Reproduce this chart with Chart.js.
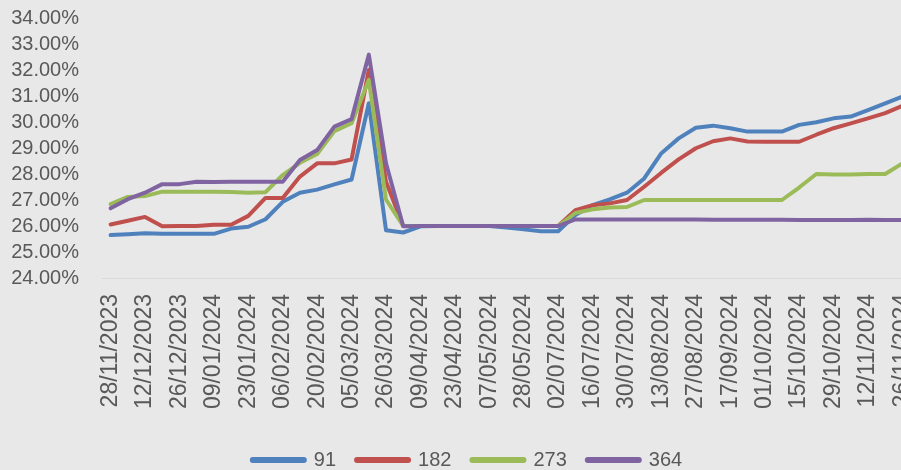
<!DOCTYPE html>
<html>
<head>
<meta charset="utf-8">
<script src="https://cdn.jsdelivr.net/npm/chart.js@4.4.1/dist/chart.umd.min.js"></script>
<style>
  html, body { margin: 0; padding: 0; background: #e8e8e8; overflow: hidden; }
  #wrap { width: 901px; height: 470px; overflow: hidden; }
  canvas { display: block; }
</style>
</head>
<body>
<div id="wrap"><canvas id="myChart" width="911" height="480"></canvas></div>
<script>
// fechas (semanales, con algunos huecos)
var fechas = [
    '28/11/2023','05/12/2023','12/12/2023','19/12/2023','26/12/2023','02/01/2024',
    '09/01/2024','16/01/2024','23/01/2024','30/01/2024','06/02/2024','13/02/2024',
    '20/02/2024','27/02/2024','05/03/2024','19/03/2024','26/03/2024','02/04/2024',
    '09/04/2024','16/04/2024','23/04/2024','30/04/2024','07/05/2024','14/05/2024',
    '28/05/2024','18/06/2024','02/07/2024','09/07/2024','16/07/2024','23/07/2024',
    '30/07/2024','06/08/2024','13/08/2024','20/08/2024','27/08/2024','10/09/2024',
    '17/09/2024','24/09/2024','01/10/2024','08/10/2024','15/10/2024','22/10/2024',
    '29/10/2024','05/11/2024','12/11/2024','19/11/2024','26/11/2024'
];

var plazos = ['91', '182', '273', '364'];

var tasa91 = [
    25.65, 25.68, 25.72, 25.70, 25.70, 25.70, 25.70, 25.90, 25.97, 26.26, 26.93, 27.28,
    27.40, 27.60, 27.79, 30.72, 25.84, 25.75, 25.99, 26.00, 26.00, 26.00, 26.00, 25.94,
    25.87, 25.80, 25.80, 26.42, 26.80, 27.02, 27.28, 27.83, 28.80, 29.37, 29.78, 29.86,
    29.76, 29.63, 29.63, 29.63, 29.89, 29.99, 30.14, 30.21, 30.46, 30.72, 30.98
];

var tasa182 = [
    26.06, 26.20, 26.35, 25.99, 26.00, 26.00, 26.05, 26.05, 26.39, 27.08, 27.08, 27.90,
    28.41, 28.41, 28.56, 32.00, 27.70, 26.00, 26.00, 26.00, 26.00, 26.00, 26.00, 26.00,
    26.00, 26.00, 26.00, 26.61, 26.80, 26.87, 27.00, 27.51, 28.05, 28.56, 28.99, 29.26,
    29.37, 29.25, 29.24, 29.24, 29.24, 29.51, 29.76, 29.95, 30.14, 30.34, 30.62
];

var tasa273 = [
    26.84, 27.12, 27.15, 27.32, 27.32, 27.32, 27.32, 27.31, 27.28, 27.30, 27.96, 28.43,
    28.77, 29.65, 29.95, 31.62, 27.02, 26.00, 26.00, 26.00, 26.00, 26.00, 26.00, 26.00,
    26.00, 26.00, 26.00, 26.50, 26.64, 26.71, 26.73, 27.00, 27.00, 27.00, 27.00, 27.00,
    27.00, 27.00, 27.00, 27.00, 27.48, 28.00, 27.98, 27.98, 28.00, 28.00, 28.41
];

var tasa364 = [
    26.68, 27.03, 27.28, 27.61, 27.61, 27.70, 27.69, 27.70, 27.70, 27.70, 27.70, 28.54,
    28.92, 29.82, 30.11, 32.59, 28.41, 25.99, 26.00, 26.00, 26.00, 26.00, 26.00, 26.00,
    26.00, 26.00, 26.00, 26.25, 26.25, 26.25, 26.25, 26.25, 26.25, 26.25, 26.25, 26.24,
    26.24, 26.24, 26.24, 26.24, 26.23, 26.23, 26.23, 26.23, 26.24, 26.23, 26.23
];

var colores = ['#4f81bd', '#c0504d', '#9bbb59', '#8064a2'];
var series = [tasa91, tasa182, tasa273, tasa364];

var datasets = [];
for (var i = 0; i < series.length; i++) {
    datasets.push({
        label: plazos[i],
        data: series[i],
        borderColor: colores[i],
        backgroundColor: colores[i],
        borderWidth: 4,
        pointRadius: 0,
        tension: 0,
        borderJoinStyle: 'round',
        borderCapStyle: 'round',
        order: series.length - i   // el 364 queda encima
    });
}

var textoGris = '#595959';

// corre la leyenda un poco a la derecha, como en el original
var moverLeyenda = {
    id: 'moverLeyenda',
    afterLayout: function(chart) {
        if (chart.legend) {
            chart.legend.left += 12;
            chart.legend.right += 12;
        }
    }
};

var charGrafico = new Chart(document.getElementById('myChart'), {
    type: 'line',
    data: {
        labels: fechas,
        datasets: datasets
    },
    plugins: [moverLeyenda],
    options: {
        responsive: false,
        animation: false,
        layout: { padding: { left: 0, top: 18, right: 0, bottom: 0 } },
        scales: {
            x: {
                offset: true,
                grid: { display: false, drawTicks: false },
                border: { display: true, color: '#d9d9d9', width: 1 },
                ticks: {
                    autoSkip: false,
                    maxRotation: 90,
                    minRotation: 90,
                    padding: 16,
                    color: textoGris,
                    font: { family: 'Liberation Sans', size: 23 },
                    callback: function(value, index) {
                        return index % 2 === 0 ? this.getLabelForValue(value) : '';
                    }
                },
                afterFit: function(scale) {
                    scale.height = 151;
                    scale.paddingLeft = 0;
                    scale.paddingRight = 0;
                }
            },
            y: {
                min: 24,
                max: 34,
                grid: { display: false, drawTicks: false },
                border: { display: false },
                ticks: {
                    stepSize: 1,
                    autoSkip: false,
                    padding: 23,
                    color: textoGris,
                    font: { family: 'Liberation Sans', size: 20 },
                    callback: function(value) {
                        return value.toFixed(2) + '%';
                    }
                },
                afterFit: function(scale) {
                    scale.width = 102;
                    scale.paddingTop = 0;
                    scale.paddingBottom = 0;
                }
            }
        },
        plugins: {
            tooltip: { enabled: false },
            legend: {
                position: 'bottom',
                labels: {
                    usePointStyle: true,
                    pointStyle: 'line',
                    pointStyleWidth: 51,
                    padding: 21,
                    color: textoGris,
                    font: { family: 'Liberation Sans', size: 20 },
                    sort: function(a, b) { return a.datasetIndex - b.datasetIndex; },
                    generateLabels: function(chart) {
                        var items = Chart.defaults.plugins.legend.labels.generateLabels(chart);
                        items.forEach(function(it) {
                            it.lineWidth = 6;
                            it.lineCap = 'round';
                        });
                        return items;
                    }
                }
            }
        }
    }
});
</script>
</body>
</html>
